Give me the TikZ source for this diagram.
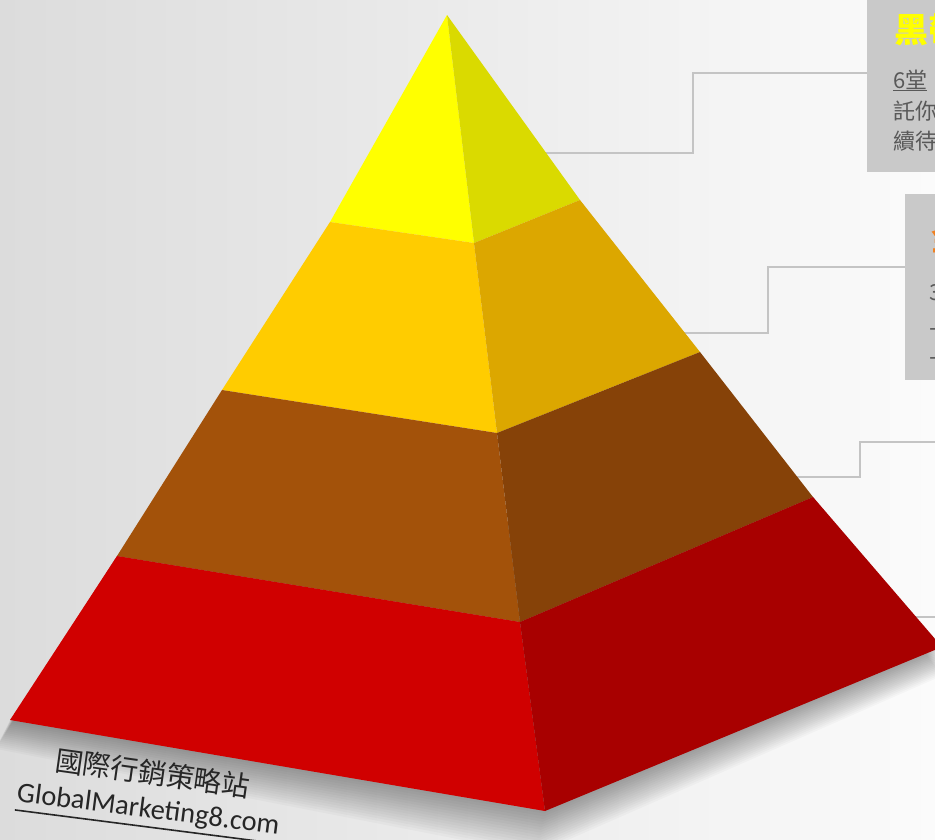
\documentclass[tikz,border=0pt]{standalone}
\usepackage{fontspec}
\newfontfamily\cjk{Noto Sans CJK TC}
\newfontfamily\carl{Carlito}
\usetikzlibrary{calc}
\definecolor{ylL}{HTML}{FFFF00}
\definecolor{ylR}{HTML}{DADA00}
\definecolor{orL}{HTML}{FFCC00}
\definecolor{orR}{HTML}{DCA700}
\definecolor{brL}{HTML}{A3520A}
\definecolor{brR}{HTML}{864208}
\definecolor{rdL}{HTML}{D00000}
\definecolor{rdR}{HTML}{A80000}
\definecolor{boxg}{HTML}{C9C9C9}
\definecolor{lineg}{HTML}{C4C4C4}
\definecolor{txtg}{HTML}{595959}
\definecolor{ttlone}{HTML}{FFFF00}
\definecolor{ttltwo}{HTML}{F08020}
\definecolor{bgL}{HTML}{DCDCDC}
\definecolor{bgM}{HTML}{F1F1F1}
\definecolor{bgR}{HTML}{FBFBFB}
\tikzset{
  conn/.style={draw=lineg, line width=2pt},
  infobox/.style={fill=boxg, draw=none, inner sep=0pt, anchor=north west},
  boxtext/.style={anchor=base west, inner sep=0pt, text=txtg, font=\cjk\fontsize{22}{22}\selectfont},
  wm/.style={anchor=base west, inner sep=0pt, text=black!85},
}
\begin{document}
\begin{tikzpicture}[x=1pt,y=-1pt]
\useasboundingbox (0,0) rectangle (935,839);
\clip (0,0) rectangle (935,839);
\shade[left color=bgL, middle color=bgM, right color=bgR] (0,0) rectangle (935,839);
% pyramid points
\coordinate (A) at (447,15);
\coordinate (R1) at (474,243);
\coordinate (R2) at (497,433);
\coordinate (R3) at (520,622);
\coordinate (R4) at (545,811);
\coordinate (L1) at (330,222);
\coordinate (L2) at (222,390);
\coordinate (L3) at (117,556);
\coordinate (L4) at (10,720);
\coordinate (Q1) at (580,200);
\coordinate (Q2) at (700,352);
\coordinate (Q3) at (813,497);
\coordinate (Q4) at (942,647);
% shadow
\foreach \k in {3,6,...,48} {
  \fill[black, opacity=0.022] ($(L4)+(-0.3*\k,0.6*\k)$) -- ($(R4)+(-0.2*\k,0.9*\k)$) -- ($(Q4)+(0,0.6*\k)$) -- (Q3) -- (L3) -- cycle;
}
% boxes
\node[infobox, minimum width=70pt, minimum height=172pt] (b1) at (867,0) {};
\node[infobox, minimum width=32pt, minimum height=186pt] (b2) at (905,194) {};
% connectors
\coordinate (p1) at (540,153);
\coordinate (p2) at (680,333);
\coordinate (p3) at (792,477);
\coordinate (p4) at (900,617);
\coordinate (e3) at (940,442);
\coordinate (e4) at (940,617);
\draw[conn] (p1) -- (693,153) |- ([yshift=-73pt]b1.north west);
\draw[conn] (p2) -- (768,333) |- ([yshift=-73pt]b2.north west);
\draw[conn] (p3) -- (860,477) |- (e3);
\draw[conn] (p4) -- (e4);
% box texts
\node[anchor=base west, inner sep=0pt, text=ttlone, font=\cjk\bfseries\fontsize{34}{34}\selectfont] (t1) at (894,42) {黑帶};
\node[boxtext] (t1a) at (893,88) {\underline{6堂}};
\node[boxtext] (t1b) at (893,119) {託你};
\node[boxtext] (t1c) at (893,149) {續待};
\node[anchor=base west, inner sep=0pt, text=ttltwo, font=\cjk\bfseries\fontsize{32}{32}\selectfont] (t2) at (931,250) {金};
\node[boxtext] (t2a) at (929,300) {3堂};
\node[boxtext] (t2b) at (929,329) {上課};
\node[boxtext] (t2c) at (929,358) {上課};
% pyramid faces
\fill[ylL] (A) -- (L1) -- (R1) -- cycle;
\fill[ylR] (A) -- (R1) -- (Q1) -- cycle;
\fill[orL] (L1) -- (L2) -- (R2) -- (R1) -- cycle;
\fill[orR] (R1) -- (R2) -- (Q2) -- (Q1) -- cycle;
\fill[brL] (L2) -- (L3) -- (R3) -- (R2) -- cycle;
\fill[brR] (R2) -- (R3) -- (Q3) -- (Q2) -- cycle;
\fill[rdL] (L3) -- (L4) -- (R4) -- (R3) -- cycle;
\fill[rdR] (R3) -- (R4) -- (Q4) -- (Q3) -- cycle;
% watermark
\node[wm, rotate=-8, font=\cjk\fontsize{28}{28}\selectfont] (wm1) at (54,770) {國際行銷策略站};
\node[wm, rotate=-7.3, font=\carl\fontsize{28.5}{28.5}\selectfont] (wm2) at (16,801) {GlobalMarketing8.com};
\draw[black!85, line width=1.6pt] ($(wm2.base west)!9pt!-90:(wm2.base east)$) -- ($(wm2.base east)!9pt!90:(wm2.base west)$);
\end{tikzpicture}
\end{document}
